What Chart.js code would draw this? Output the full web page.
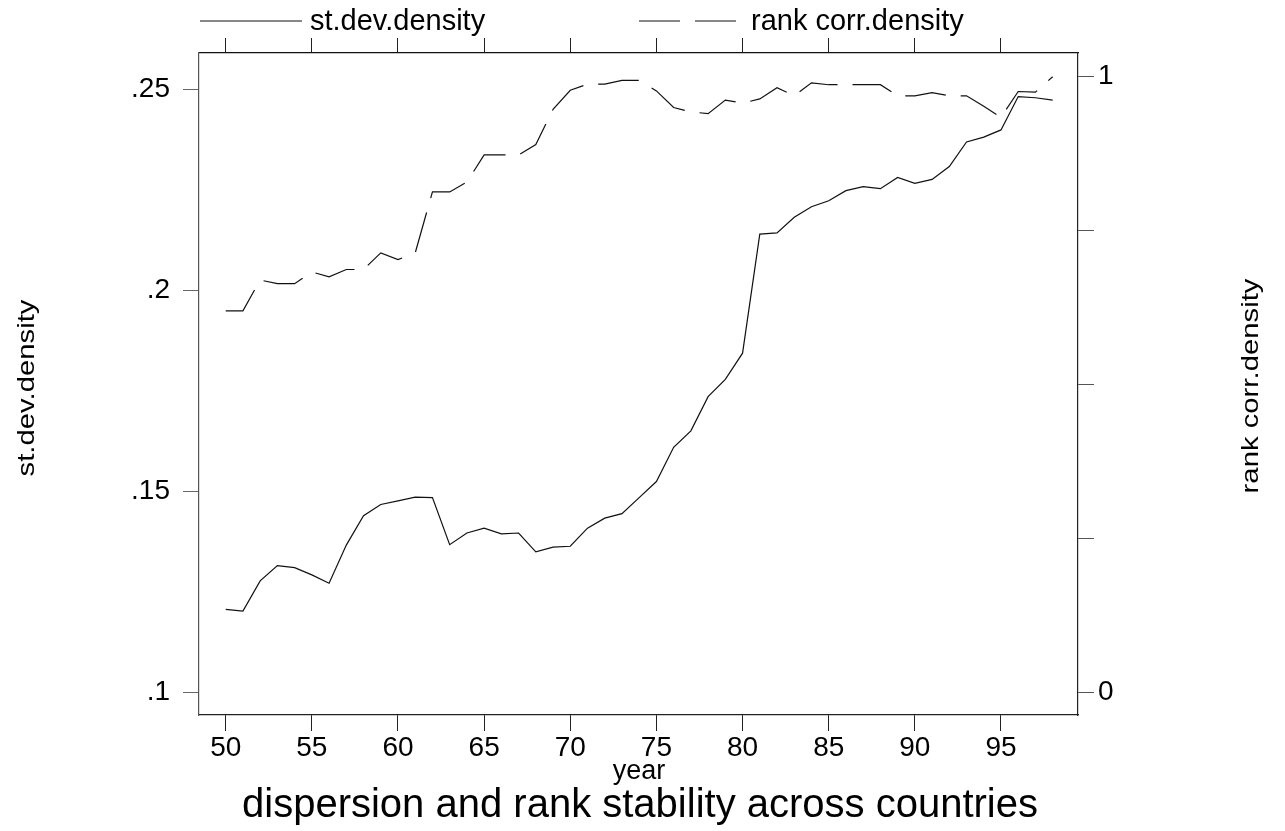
<!DOCTYPE html>
<html>
<head>
  <title>dispersion and rank stability across countries</title>
  <script src="https://cdn.jsdelivr.net/npm/chart.js"></script>
  <style>
    body { margin: 0; background: #fff; }
  </style>
</head>
<body>
  <canvas id="myChart" width="1285" height="831"></canvas>
  <script>
    // data
    const years = [50, 51, 52, 53, 54, 55, 56, 57, 58, 59, 60, 61, 62, 63, 64, 65, 66, 67, 68, 69, 70, 71, 72, 73, 74,
      75, 76, 77, 78, 79, 80, 81, 82, 83, 84, 85, 86, 87, 88, 89, 90, 91, 92, 93, 94, 95, 96, 97, 98];
    const stdevDensity = [0.1207, 0.1203, 0.1278, 0.1316, 0.1311, 0.1293, 0.1272, 0.1367, 0.1440, 0.1468,
      0.1477, 0.1486, 0.1485, 0.1368, 0.1397, 0.1409, 0.1395, 0.1397, 0.1350, 0.1362,
      0.1364, 0.1409, 0.1434, 0.1445, 0.1485, 0.1525, 0.1610, 0.1651, 0.1736, 0.1779,
      0.1844, 0.2140, 0.2143, 0.2182, 0.2208, 0.2223, 0.2248, 0.2258, 0.2253, 0.2281,
      0.2266, 0.2276, 0.2308, 0.2369, 0.2381, 0.2399, 0.2482, 0.2479, 0.2473];
    const rankCorrDensity = [0.620, 0.620, 0.670, 0.664, 0.664, 0.683, 0.675, 0.687, 0.687, 0.714,
      0.703, 0.714, 0.813, 0.813, 0.829, 0.873, 0.873, 0.873, 0.890, 0.947,
      0.978, 0.988, 0.988, 0.994, 0.994, 0.977, 0.950, 0.943, 0.940, 0.962,
      0.957, 0.964, 0.982, 0.969, 0.990, 0.987, 0.987, 0.987, 0.987, 0.969,
      0.969, 0.974, 0.969, 0.969, 0.952, 0.934, 0.976, 0.975, 1.000];

    const seriesNames = ['st.dev.density', 'rank corr.density'];
    const xTicks = [50, 55, 60, 65, 70, 75, 80, 85, 90, 95];
    const leftTicks = [0.1, 0.15, 0.2, 0.25];
    const leftTickLabels = ['.1', '.15', '.2', '.25'];
    const rightTicks = [0, 0.25, 0.5, 0.75, 1];
    const rightTickLabels = ['0', '', '', '', '1'];
    const xTitle = 'year';
    const mainTitle = 'dispersion and rank stability across countries';

    const FONT = '"Liberation Sans", Arial, sans-serif';
    const rankDash = [41, 15];

    // legend, axis titles and main title
    const textPlugin = {
      id: 'stataText',
      afterDraw(chart) {
        const ctx = chart.ctx;
        ctx.save();
        ctx.fillStyle = '#000';
        ctx.strokeStyle = '#111';
        ctx.lineWidth = 1.2;

        // legend
        ctx.beginPath();
        ctx.moveTo(200, 21); ctx.lineTo(302, 21);
        ctx.stroke();
        ctx.setLineDash(rankDash);
        ctx.beginPath();
        ctx.moveTo(639, 21); ctx.lineTo(738, 21);
        ctx.stroke();
        ctx.setLineDash([]);
        ctx.font = '29px ' + FONT;
        ctx.textAlign = 'left';
        ctx.textBaseline = 'alphabetic';
        ctx.fillText(seriesNames[0], 310, 30);
        ctx.fillText(seriesNames[1], 751, 30);

        // x title + main title
        ctx.textAlign = 'center';
        ctx.font = '27px ' + FONT;
        ctx.fillText(xTitle, 639, 779);
        ctx.font = '40px ' + FONT;
        ctx.fillText(mainTitle, 640, 817);

        // rotated y titles, a bit stretched along the run like the original
        ctx.font = '24px ' + FONT;
        ctx.textBaseline = 'middle';
        [[seriesNames[0], 27, 388], [seriesNames[1], 1251, 386]].forEach(([t, x, y]) => {
          ctx.save();
          ctx.translate(x, y);
          ctx.rotate(-Math.PI / 2);
          ctx.scale(1.22, 1);
          ctx.fillText(t, 0, 0);
          ctx.restore();
        });
        ctx.restore();
      }
    };

    const data_setting = {
      datasets: [
        {
          label: seriesNames[0],
          data: years.map((y, i) => ({ x: y, y: stdevDensity[i] })),
          yAxisID: 'y',
          xAxisID: 'x',
          borderColor: '#111',
          borderWidth: 1.2,
          pointRadius: 0,
          tension: 0,
          fill: false,
        },
        {
          label: seriesNames[1],
          data: years.map((y, i) => ({ x: y, y: rankCorrDensity[i] })),
          yAxisID: 'y1',
          xAxisID: 'x',
          borderColor: '#111',
          borderWidth: 1.2,
          borderDash: rankDash,
          pointRadius: 0,
          tension: 0,
          fill: false,
        },
      ],
    };

    const xTickSetup = (axis) => { axis.ticks = xTicks.map(v => ({ value: v })); };

    const config = {
      type: 'line',
      data: data_setting,
      plugins: [textPlugin],
      options: {
        responsive: false,
        animation: false,
        devicePixelRatio: 1,
        layout: { padding: 0 },
        scales: {
          x: {
            type: 'linear',
            position: 'bottom',
            min: 48.45,
            max: 99.47,
            afterBuildTicks: xTickSetup,
            afterFit: (s) => { s.height = 116; },
            grid: { drawOnChartArea: false, tickLength: 16, tickColor: '#222' },
            border: { display: true, color: '#222', width: 1.2 },
            ticks: {
              color: '#000',
              font: { size: 28, family: FONT },
              padding: 0,
              maxRotation: 0,
              autoSkip: false,
              callback: (v) => String(v),
            },
          },
          x2: {
            type: 'linear',
            position: 'top',
            min: 48.45,
            max: 99.47,
            afterBuildTicks: xTickSetup,
            afterFit: (s) => { s.height = 53; },
            grid: { drawOnChartArea: false, tickLength: 15, tickColor: '#222' },
            border: { display: true, color: '#111', width: 1.2 },
            ticks: { display: false },
          },
          y: {
            type: 'linear',
            position: 'left',
            min: 0.09446,
            max: 0.25902,
            afterBuildTicks: (axis) => { axis.ticks = leftTicks.map(v => ({ value: v })); },
            afterFit: (s) => { s.width = 199; },
            grid: { drawOnChartArea: false, tickLength: 16, tickColor: '#666' },
            border: { display: true, color: '#555', width: 1.2 },
            ticks: {
              color: '#000',
              font: { size: 28, family: FONT },
              padding: 13,
              callback: (v, i) => leftTickLabels[i],
            },
          },
          y1: {
            type: 'linear',
            position: 'right',
            min: -0.0362,
            max: 1.0385,
            afterBuildTicks: (axis) => { axis.ticks = rightTicks.map(v => ({ value: v })); },
            afterFit: (s) => { s.width = 207; },
            grid: { drawOnChartArea: false, tickLength: 16, tickColor: '#555' },
            border: { display: true, color: '#222', width: 1.2 },
            ticks: {
              color: '#000',
              font: { size: 28, family: FONT },
              padding: 4,
              callback: (v, i) => rightTickLabels[i],
            },
          },
        },
        plugins: {
          legend: { display: false },
          title: { display: false },
          tooltip: { enabled: false },
        },
      },
    };

    var myChart = new Chart(document.getElementById('myChart'), config);
  </script>
</body>
</html>
